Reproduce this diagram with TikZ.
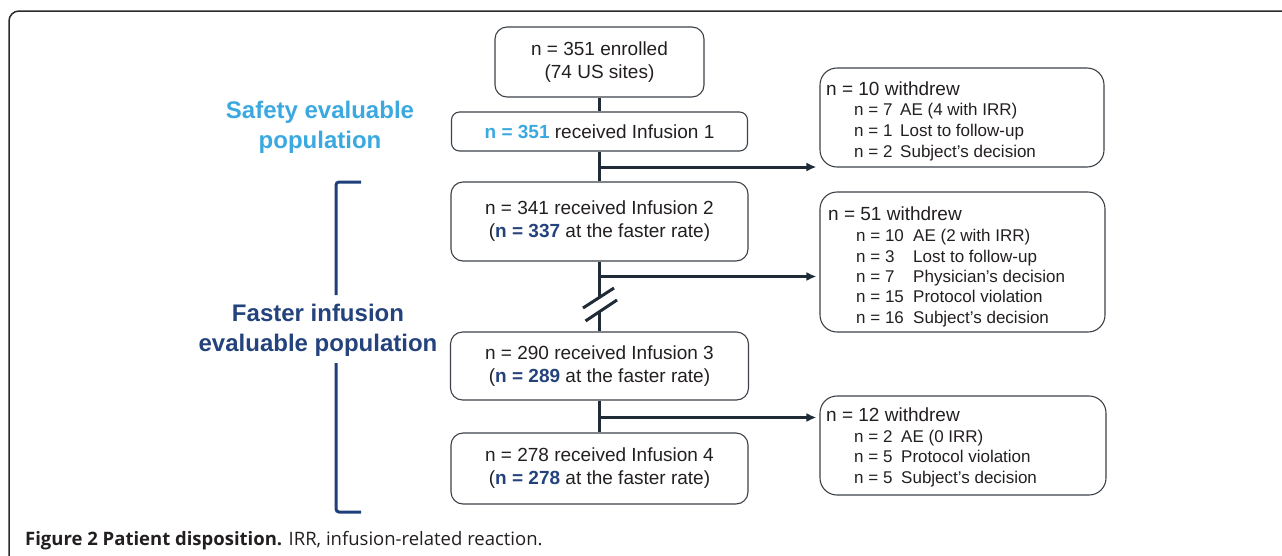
\documentclass[tikz,border=0pt]{standalone}
\usepackage{fontspec}
\setmainfont{Liberation Sans}
\newfontfamily\capfont{Open Sans}
\usetikzlibrary{arrows.meta}
\definecolor{linec}{HTML}{1F2B36}
\definecolor{boxc}{HTML}{3C4248}
\definecolor{txt}{HTML}{231F20}
\definecolor{lblue}{HTML}{3BA9E0}
\definecolor{dblue}{HTML}{24437C}
\definecolor{brkc}{HTML}{1F3F7A}
\definecolor{framec}{HTML}{2A2A2A}
\begin{document}
\begin{tikzpicture}[x=1pt,y=-1pt,
  box/.style={draw=boxc, line width=1.1pt, rounded corners=#1, inner sep=0pt, align=center, text=txt, font=\fontsize{19}{23}\selectfont},
  box/.default=10,
  wbox/.style={draw=boxc, line width=1.1pt, rounded corners=17, inner sep=0pt},
  head/.style={anchor=base west, inner sep=0pt, text=txt, font=\fontsize{19}{23}\selectfont},
  item/.style={anchor=base west, inner sep=0pt, text=txt, font=\fontsize{17}{20}\selectfont},
  flow/.style={draw=linec, line width=3pt},
  arr/.style={flow, -{Latex[length=10pt,width=9pt]}},
  brk/.style={draw=brkc, line width=3pt, rounded corners=3},
  grp/.style={font=\bfseries\fontsize{24}{30}\selectfont, align=center, inner sep=0pt}
]
\useasboundingbox (0,0) rectangle (1282,555);
\clip (0,0) rectangle (1282,555);
% frame
\draw[draw=framec, line width=1.5pt, rounded corners=10] (1300,11) -- (9,11) -- (9,580);

% main boxes
\node[box=12, minimum width=209, minimum height=70] (A) at (599.5,62) {n = 351 enrolled\\(74 US sites)};
\node[box=8, minimum width=296, minimum height=39] (B) at (599.5,131.5) {\textcolor{lblue}{\textbf{n = 351}} received Infusion 1};
\node[box=12, minimum width=297, minimum height=79] (C) at (599.5,221.5) {n = 341 received Infusion 2\\(\textcolor{dblue}{\textbf{n = 337}} at the faster rate)};
\node[box=12, minimum width=298, minimum height=68] (D) at (599.5,366) {n = 290 received Infusion 3\\(\textcolor{dblue}{\textbf{n = 289}} at the faster rate)};
\node[box=12, minimum width=297, minimum height=71] (E) at (599.5,468.5) {n = 278 received Infusion 4\\(\textcolor{dblue}{\textbf{n = 278}} at the faster rate)};

% withdrawal boxes
\node[wbox, minimum width=284, minimum height=99] (W1) at (962,117.5) {};
\node[wbox, minimum width=285, minimum height=140] (W2) at (962.5,262) {};
\node[wbox, minimum width=286, minimum height=99] (W3) at (963,445.5) {};

\node[head] (w1h) at (826,95) {n = 10 withdrew};
\node[item] (w1a) at (854,115) {n = 7};  \node[item] (w1at) at (900,115) {AE (4 with IRR)};
\node[item] (w1b) at (854,136) {n = 1};  \node[item] (w1bt) at (900,136) {Lost to follow-up};
\node[item] (w1c) at (854,157) {n = 2};  \node[item] (w1ct) at (900,157) {Subject’s decision};

\node[head] (w2h) at (828,220) {n = 51 withdrew};
\node[item] (w2a) at (856,241) {n = 10}; \node[item] (w2at) at (913,241) {AE (2 with IRR)};
\node[item] (w2b) at (856,262) {n = 3};  \node[item] (w2bt) at (913,262) {Lost to follow-up};
\node[item] (w2c) at (856,282) {n = 7};  \node[item] (w2ct) at (913,282) {Physician’s decision};
\node[item] (w2d) at (856,302) {n = 15}; \node[item] (w2dt) at (913,302) {Protocol violation};
\node[item] (w2e) at (856,323) {n = 16}; \node[item] (w2et) at (913,323) {Subject’s decision};

\node[head] (w3h) at (826,421) {n = 12 withdrew};
\node[item] (w3a) at (854,442) {n = 2};  \node[item] (w3at) at (901,442) {AE (0 IRR)};
\node[item] (w3b) at (854,462) {n = 5};  \node[item] (w3bt) at (901,462) {Protocol violation};
\node[item] (w3c) at (854,483) {n = 5};  \node[item] (w3ct) at (901,483) {Subject’s decision};

% flow lines
\draw[flow] (A.south) -- (B.north);
\draw[flow] (B.south) -- (C.north);
\coordinate (k1) at (599.5,297.5);
\coordinate (k2) at (599.5,311.5);
\draw[flow] (C.south) -- (k1);
\draw[flow] (k2) -- (D.north);
\draw[flow] (D.south) -- (E.north);
\draw[draw=linec, line width=3pt] (583,308) -- (614,288);
\draw[draw=linec, line width=3pt] (585.5,321) -- (617,300);

% branches
\coordinate (j1) at (599.5,167);
\coordinate (j2) at (599.5,276.5);
\coordinate (j3) at (599.5,417.5);
\draw[arr] (j1) -- ([xshift=-3pt]j1 -| W1.west);
\draw[arr] (j2) -- ([xshift=-3pt]j2 -| W2.west);
\draw[arr] (j3) -- ([xshift=-3pt]j3 -| W3.west);

% group labels
\node[grp, text=lblue] (safety) at (320,127) {Safety evaluable\\population};
\node[grp, text=dblue] (faster) at (318,330) {Faster infusion\\evaluable population};
\draw[brk] (361,182) -- (336,182) -- (336,295);
\draw[brk] (336,363) -- (336,512) -- (361,512);

% caption
\node[anchor=base west, inner sep=0pt, font=\capfont\fontsize{18.5}{20}\selectfont, text=txt] (cap) at (25,545) {\textbf{Figure 2 Patient disposition.} IRR, infusion-related reaction.};
\end{tikzpicture}
\end{document}
